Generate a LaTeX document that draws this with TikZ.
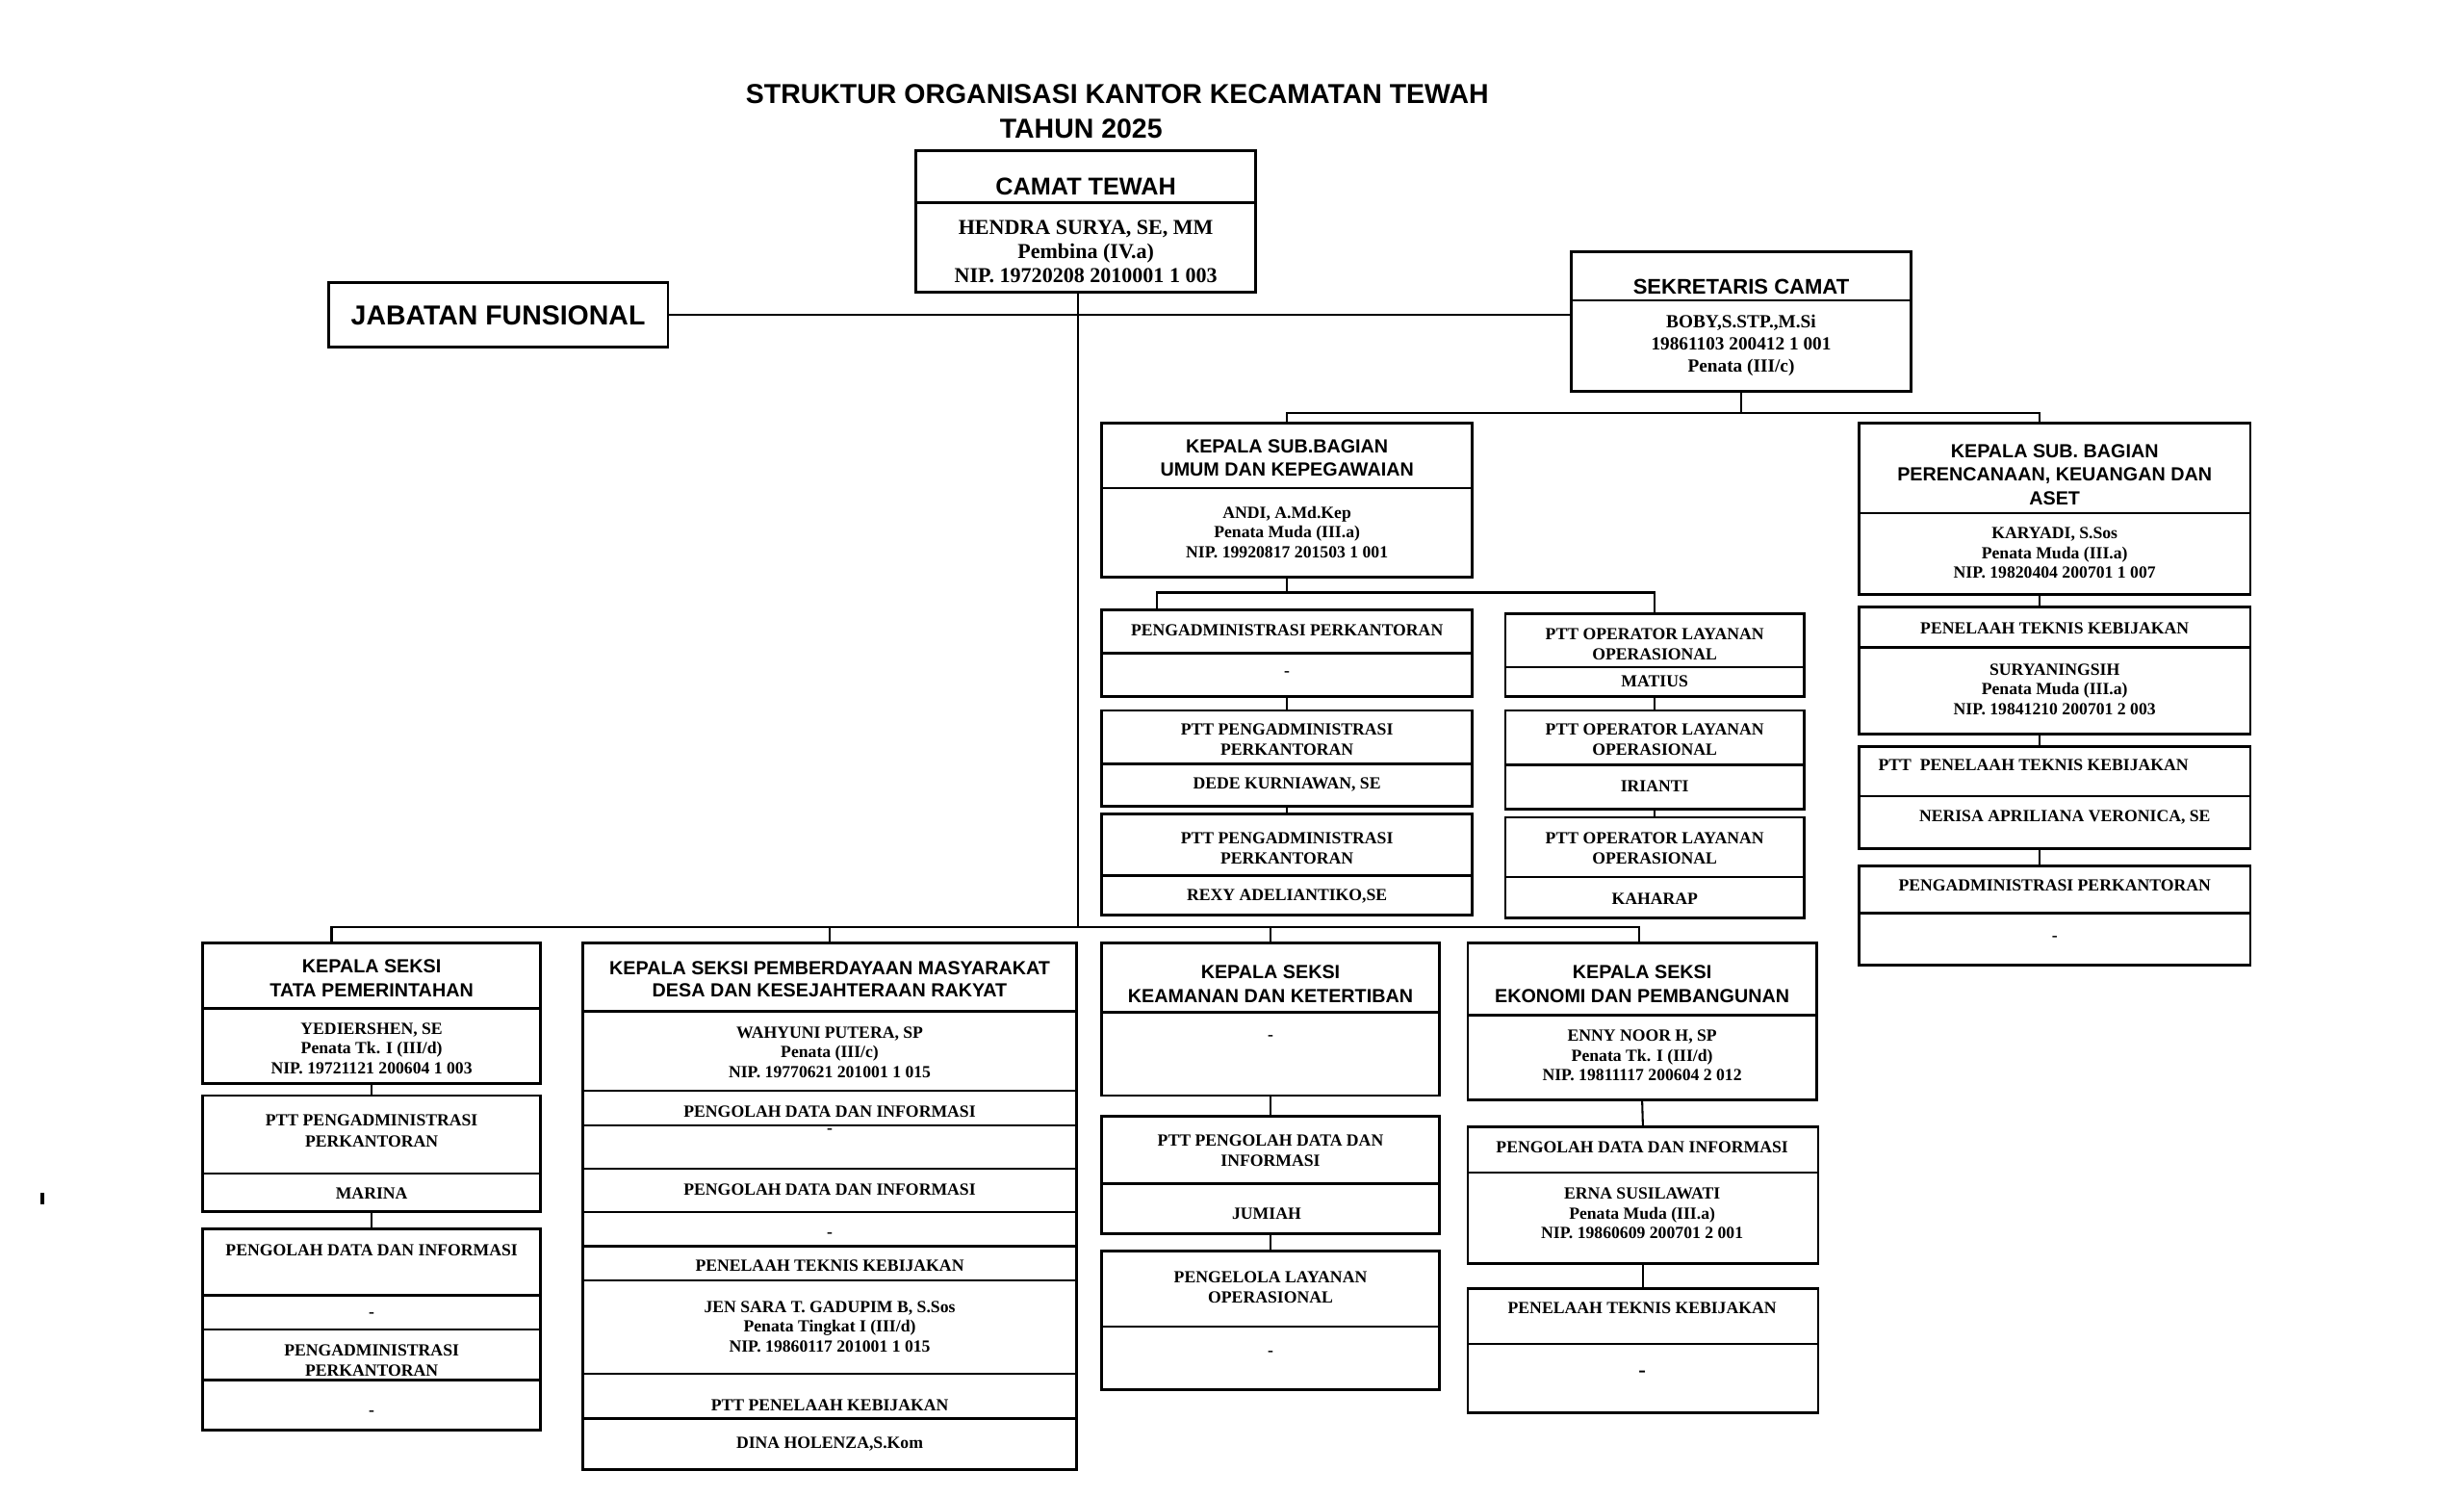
\documentclass[tikz,border=0pt]{standalone}
\usepackage{fontspec}
\setmainfont{Liberation Serif}
\setsansfont{Liberation Sans}
\usetikzlibrary{positioning}

\newcommand{\ftitle}{\sffamily\bfseries\fontsize{12.4}{15}\selectfont}
\newcommand{\fbig}{\sffamily\bfseries\fontsize{11}{13}\selectfont}
\newcommand{\fjab}{\sffamily\bfseries\fontsize{12.4}{14}\selectfont}
\newcommand{\fsek}{\sffamily\bfseries\fontsize{9.6}{11}\selectfont}
\newcommand{\fhead}{\sffamily\bfseries\fontsize{8.6}{10.7}\selectfont}
\newcommand{\fname}{\bfseries\fontsize{9.6}{11}\selectfont}
\newcommand{\fmid}{\bfseries\fontsize{8.4}{10}\selectfont}
\newcommand{\fbody}{\bfseries\fontsize{7.7}{8.9}\selectfont}
\newcommand{\fsub}{\bfseries\fontsize{7.7}{9.2}\selectfont}

\tikzset{
  frm/.style={rectangle,draw,line width=1.2pt,inner sep=0pt,outer sep=0pt},
  div/.style={line width=1.1pt},
  link/.style={line width=0.9pt},
  hdr/.style={inner sep=0pt,align=center,font=\fhead},
  txt/.style={inner sep=0pt,align=center,font=\fbody},
  sub/.style={inner sep=0pt,align=center,font=\fsub},
}

% box frame with its dividing lines
\newcommand{\orgbox}[6]{%
  \node[frm,minimum width={(#4-#2)*0.025cm},minimum height={(#5-#3)*0.025cm}]
    (#1) at ({(#2+#4)/2},{(#3+#5)/2}) {};
  \foreach \dy in {#6} {\draw[div] (#2,\dy) -- (#4,\dy);}%
}

\begin{document}
\begin{tikzpicture}[x=0.025cm,y=-0.025cm]
  \useasboundingbox (0,0) rectangle (1568,952);
  \fill[white] (0,0) rectangle (1568,952);

  % title
  \node at (711,60) [font=\ftitle,inner sep=0pt] (title1) {STRUKTUR ORGANISASI KANTOR KECAMATAN TEWAH};
  \node at (688,82) [font=\ftitle,inner sep=0pt] (title2) {TAHUN 2025};

  % camat
  \orgbox{camat}{583}{96}{799}{186}{129}
  \node at (691,119) [hdr,font=\fbig] (camat_h) {CAMAT TEWAH};
  \node at (691,160) [txt,font=\fname] (camat_b) {HENDRA SURYA, SE, MM\\Pembina (IV.a)\\NIP. 19720208 2010001 1 003};

  % jabatan fungsional
  \node at (317,200.5) [frm,font=\fjab,minimum width={216*0.025cm},minimum height={41*0.025cm}] (jabfung) {JABATAN FUNSIONAL};

  % sekretaris
  \orgbox{sekcam}{1000}{160}{1216}{249}{191}
  \node at (1108,182.5) [hdr,font=\fsek] (sekcam_h) {SEKRETARIS CAMAT};
  \node at (1108,220) [txt,font=\fmid] (sekcam_b) {BOBY,S.STP.,M.Si\\19861103 200412 1 001\\Penata (III/c)};

  \draw[link] (jabfung.east) -- (jabfung.east -| sekcam.west);
  \coordinate (bus_l) at (211,590);
  \coordinate (bus_r) at (1043,590);
  \coordinate (bus_c) at (686,590);
  \draw[link] (bus_c |- camat.south) -- (bus_c);

  % sub bagian umum dan kepegawaian
  \orgbox{umum}{701}{269}{937}{367}{310.5}
  \node at (819,291.5) [hdr] (umum_h) {KEPALA SUB.BAGIAN\\UMUM DAN KEPEGAWAIAN};
  \node at (819,338.5) [txt] (umum_b) {ANDI, A.Md.Kep\\Penata Muda (III.a)\\NIP. 19920817 201503 1 001};

  % sub bagian perencanaan
  \orgbox{renc}{1183}{269}{1432}{378}{326.5}
  \node at (1307.5,302) [hdr] (renc_h) {KEPALA SUB. BAGIAN\\PERENCANAAN, KEUANGAN DAN\\ASET};
  \node at (1307.5,352) [txt] (renc_b) {KARYADI, S.Sos\\Penata Muda (III.a)\\NIP. 19820404 200701 1 007};

  \coordinate (sbus_r) at (1298,263);
  \draw[link] (sekcam.south) -- (sekcam.south |- sbus_r);
  \draw[link] (umum.north) |- (sbus_r) -- (sbus_r |- renc.north);

  % umum: pengadministrasi
  \orgbox{pa1}{701}{388}{937}{443}{415.5}
  \node at (819,401) [txt] (pa1_h) {PENGADMINISTRASI PERKANTORAN};
  \node at (819,429) [txt] (pa1_b) {-};
  \orgbox{pa2}{701}{452}{937}{513}{486}
  \node at (819,470.5) [sub] (pa2_h) {PTT PENGADMINISTRASI\\PERKANTORAN};
  \node at (819,499) [txt] (pa2_b) {DEDE KURNIAWAN, SE};
  \orgbox{pa3}{701}{518}{937}{582}{557}
  \node at (819,540) [sub] (pa3_h) {PTT PENGADMINISTRASI\\PERKANTORAN};
  \node at (819,570.5) [txt] (pa3_b) {REXY ADELIANTIKO,SE};

  % umum: operator layanan
  \orgbox{op1}{958}{390.5}{1148}{443}{424.5}
  \node at (1053,410) [sub] (op1_h) {PTT OPERATOR LAYANAN\\OPERASIONAL};
  \node at (1053,433.5) [txt] (op1_b) {MATIUS};
  \orgbox{op2}{958}{452}{1148}{515}{486.5}
  \node at (1053,470.5) [sub] (op2_h) {PTT OPERATOR LAYANAN\\OPERASIONAL};
  \node at (1053,500) [txt] (op2_b) {IRIANTI};
  \orgbox{op3}{958}{520}{1148}{584}{558}
  \node at (1053,539.5) [sub] (op3_h) {PTT OPERATOR LAYANAN\\OPERASIONAL};
  \node at (1053,572) [txt] (op3_b) {KAHARAP};

  \coordinate (ubus_l) at (736,377);
  \draw[link] (umum.south) -- (umum.south |- ubus_l);
  \draw[link] (ubus_l |- pa1.north) -- (ubus_l) -| (op1.north);
  \draw[link] (pa1.south) -- (pa2.north);
  \draw[link] (pa2.south) -- (pa3.north);
  \draw[link] (op1.south) -- (op2.north);
  \draw[link] (op2.south) -- (op3.north);

  % perencanaan column
  \orgbox{ptk}{1183}{386}{1432}{467}{412}
  \node at (1307.5,400) [txt] (ptk_h) {PENELAAH TEKNIS KEBIJAKAN};
  \node at (1307.5,438.5) [txt] (ptk_b) {SURYANINGSIH\\Penata Muda (III.a)\\NIP. 19841210 200701 2 003};
  \orgbox{pptk}{1183}{475}{1432}{540}{506.5}
  \node at (1294,487) [txt] (pptk_h) {PTT~ PENELAAH TEKNIS KEBIJAKAN};
  \node at (1314,520) [txt] (pptk_b) {NERISA APRILIANA VERONICA, SE};
  \orgbox{pa4}{1183}{551}{1432}{614}{581}
  \node at (1307.5,563.5) [txt] (pa4_h) {PENGADMINISTRASI PERKANTORAN};
  \node at (1307.5,597) [txt] (pa4_b) {-};

  \draw[link] (sbus_r |- renc.south) -- (sbus_r |- ptk.north);
  \draw[link] (sbus_r |- ptk.south) -- (sbus_r |- pptk.north);
  \draw[link] (sbus_r |- pptk.south) -- (sbus_r |- pa4.north);

  % seksi tata pemerintahan
  \orgbox{tata}{129}{600}{344}{689.5}{641.5}
  \node at (236.5,622.5) [hdr] (tata_h) {KEPALA SEKSI\\TATA PEMERINTAHAN};
  \node at (236.5,667) [txt] (tata_b) {YEDIERSHEN, SE\\Penata Tk. I (III/d)\\NIP. 19721121 200604 1 003};
  \orgbox{tpa}{129}{697}{344}{771}{746.5}
  \node at (236.5,719.5) [sub] (tpa_h) {PTT PENGADMINISTRASI\\PERKANTORAN};
  \node at (236.5,759) [txt] (tpa_b) {MARINA};
  \orgbox{tpd}{129}{782}{344}{910}{824,846,878}
  \node at (236.5,795.5) [txt] (tpd_h) {PENGOLAH DATA DAN INFORMASI};
  \node at (236.5,837) [txt] (tpd_b) {-};
  \node at (236.5,865.5) [sub] (tpd_h2) {PENGADMINISTRASI\\PERKANTORAN};
  \node at (236.5,899) [txt] (tpd_b2) {-};
  \draw[link] (tata.south) -- (tpa.north);
  \draw[link] (tpa.south) -- (tpd.north);

  % seksi pemberdayaan masyarakat
  \orgbox{pemb}{371}{600}{685}{935}{643.5,694,716,743.5,771,793,814.5,874,902.5}
  \node at (528,623) [hdr,font=\sffamily\bfseries\fontsize{8.6}{10}\selectfont] (pemb_h) {KEPALA SEKSI PEMBERDAYAAN MASYARAKAT\\DESA DAN KESEJAHTERAAN RAKYAT};
  \node at (528,669.5) [txt] (pemb_b) {WAHYUNI PUTERA, SP\\Penata (III/c)\\NIP. 19770621 201001 1 015};
  \node at (528,707) [txt] (pemb_p1) {PENGOLAH DATA DAN INFORMASI};
  \node at (528,720) [txt] (pemb_d1) {-};
  \node at (528,757) [txt] (pemb_p2) {PENGOLAH DATA DAN INFORMASI};
  \node at (528,786) [txt] (pemb_d2) {-};
  \node at (528,805) [txt] (pemb_k) {PENELAAH TEKNIS KEBIJAKAN};
  \node at (528,844) [txt] (pemb_j) {JEN SARA T. GADUPIM B, S.Sos\\Penata Tingkat I (III/d)\\NIP. 19860117 201001 1 015};
  \node at (528,894) [txt] (pemb_pk) {PTT PENELAAH KEBIJAKAN};
  \node at (528,919) [txt] (pemb_n) {DINA HOLENZA,S.Kom};

  % seksi keamanan dan ketertiban
  \orgbox{keam}{701}{600}{916}{697}{644}
  \node at (808.5,626) [hdr] (keam_h) {KEPALA SEKSI\\KEAMANAN DAN KETERTIBAN};
  \node at (808.5,660) [txt] (keam_b) {-};
  \orgbox{kpd}{701}{710}{916}{785}{753}
  \node at (808.5,732) [sub] (kpd_h) {PTT PENGOLAH DATA DAN\\INFORMASI};
  \node at (806,772) [txt] (kpd_b) {JUMIAH};
  \orgbox{kpl}{701}{796}{916}{884}{844}
  \node at (808.5,819) [sub] (kpl_h) {PENGELOLA LAYANAN\\OPERASIONAL};
  \node at (808.5,861) [txt] (kpl_b) {-};
  \draw[link] (keam.south) -- (kpd.north);
  \draw[link] (kpd.south) -- (kpl.north);

  % seksi ekonomi dan pembangunan
  \orgbox{ekon}{934}{600}{1156}{700}{646}
  \node at (1045,626) [hdr] (ekon_h) {KEPALA SEKSI\\EKONOMI DAN PEMBANGUNAN};
  \node at (1045,671.5) [txt] (ekon_b) {ENNY NOOR H, SP\\Penata Tk. I (III/d)\\NIP. 19811117 200604 2 012};
  \orgbox{epd}{934}{717}{1157}{804}{746}
  \node at (1045,730) [txt] (epd_h) {PENGOLAH DATA DAN INFORMASI};
  \node at (1045,772) [txt] (epd_b) {ERNA SUSILAWATI\\Penata Muda (III.a)\\NIP. 19860609 200701 2 001};
  \orgbox{eptk}{934}{820}{1157}{899}{855}
  \node at (1045,832) [txt] (eptk_h) {PENELAAH TEKNIS KEBIJAKAN};
  \node at (1045,874) [txt,font=\bfseries\fontsize{10}{12}\selectfont] (eptk_b) {-};
  \draw[link] (ekon.south) -- (epd.north);
  \draw[link] (epd.south) -- (eptk.north);

  % seksi bus
  \draw[link] (bus_l |- tata.north) -- (bus_l) -- (bus_r) -- (bus_r |- ekon.north);
  \draw[link] (pemb.north) -- (pemb.north |- bus_l);
  \draw[link] (keam.north) -- (keam.north |- bus_l);

  % stray tick at the left edge
  \fill (26,759) rectangle (28,766);
\end{tikzpicture}
\end{document}
